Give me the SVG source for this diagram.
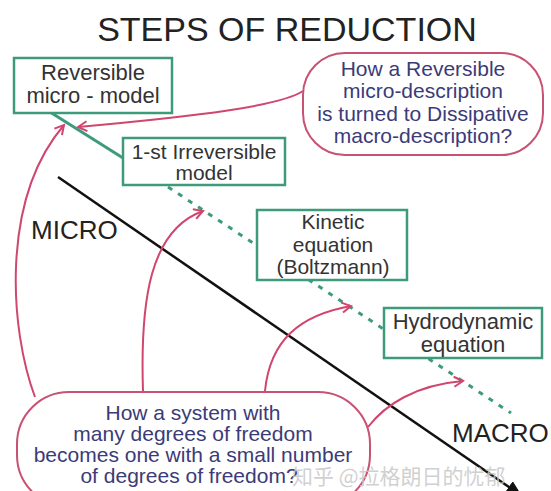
<svg xmlns="http://www.w3.org/2000/svg" width="551" height="491" viewBox="0 0 551 491">
<style>
.bg{fill:#ffffff}
.gbox{fill:#ffffff;stroke:#3d9b7b;stroke-width:2.5}
.pbox{fill:#ffffff;stroke:#c85273;stroke-width:2}
.gt{font-family:"Liberation Sans",Arial,sans-serif;font-size:22px;fill:#333333;text-anchor:middle}
.gs{font-size:21px}
.pt{font-family:"Liberation Sans",Arial,sans-serif;font-size:21px;fill:#3b3b78;text-anchor:middle}
.big{font-family:"Liberation Sans",Arial,sans-serif;font-size:26px;fill:#222222}
.title{font-family:"Liberation Sans",Arial,sans-serif;font-size:34px;fill:#222222;text-anchor:middle}
.parr{fill:none;stroke:#d0466e;stroke-width:2;marker-end:url(#pa)}
.wm{font-family:"Noto Sans CJK SC","Liberation Sans",sans-serif;font-size:21px;fill:#c8c8c8;fill-opacity:0.85}
</style>
<defs>
<marker id="pa" markerUnits="userSpaceOnUse" markerWidth="14" markerHeight="14" refX="10" refY="6" orient="auto">
<path d="M1,1 L10,6 L1,11" fill="none" stroke="#d0466e" stroke-width="2"/>
</marker>
<marker id="ba" markerUnits="userSpaceOnUse" markerWidth="20" markerHeight="20" refX="16" refY="8" orient="auto">
<path d="M0,1 L16,8 L0,15 Z" fill="#111111"/>
</marker>
</defs>
<rect class="bg" x="0" y="0" width="551" height="491"/>
<text class="title" x="287" y="41">STEPS OF REDUCTION</text>
<g id="connectors">
<line x1="50" y1="112" x2="123" y2="158" stroke="#3d9b7b" stroke-width="3"/>
<line x1="168" y1="187" x2="511" y2="413" stroke="#3d9b7b" stroke-width="3" stroke-dasharray="5 7"/>
<line x1="58" y1="177" x2="522" y2="496" stroke="#111111" stroke-width="2.5" marker-end="url(#ba)"/>
<path class="parr" d="M303 91 C280 106, 200 116, 78 127"/>
<path class="parr" d="M35 397 C10 330, 0 200, 64 125"/>
<path class="parr" d="M143 391 C140 300, 150 230, 203 211"/>
<path class="parr" d="M265 391 C270 340, 300 315, 351 306"/>
<path class="parr" d="M368 427 C385 405, 415 385, 463 381"/>
</g>
<g id="micro-label"><text class="big" x="31" y="239">MICRO</text></g>
<g id="macro-label"><text class="big" x="452" y="442">MACRO</text></g>
<g id="reversible-micro-model">
<rect class="gbox" x="14" y="58" width="158" height="55"/>
<text class="gt" x="93" y="80">Reversible</text>
<text class="gt" x="93" y="103">micro - model</text>
</g>
<g id="first-irreversible-model">
<rect class="gbox" x="123" y="138" width="162" height="47"/>
<text class="gt gs" x="204" y="159">1-st Irreversible</text>
<text class="gt gs" x="204" y="180">model</text>
</g>
<g id="kinetic-equation">
<rect class="gbox" x="257" y="210" width="150" height="70"/>
<text class="gt gs" x="333" y="229">Kinetic</text>
<text class="gt gs" x="333" y="252">equation</text>
<text class="gt gs" x="333" y="274">(Boltzmann)</text>
</g>
<g id="hydrodynamic-equation">
<rect class="gbox" x="384" y="308" width="158" height="50"/>
<text class="gt" x="463" y="329">Hydrodynamic</text>
<text class="gt" x="463" y="352">equation</text>
</g>
<g id="question-reversible">
<rect class="pbox" x="303" y="53" width="240" height="102" rx="42" ry="42"/>
<text class="pt" x="423" y="76">How a Reversible</text>
<text class="pt" x="423" y="98">micro-description</text>
<text class="pt" x="423" y="121">is turned to Dissipative</text>
<text class="pt" x="423" y="143">macro-description?</text>
</g>
<g id="question-degrees">
<rect class="pbox" x="17" y="392" width="353" height="115" rx="52" ry="52"/>
<text class="pt" x="193" y="420">How a system with</text>
<text class="pt" x="193" y="441">many degrees of freedom</text>
<text class="pt" x="193" y="462">becomes one with a small number</text>
<text class="pt" x="189" y="483">of degrees of freedom?</text>
</g>
<text class="wm" x="292" y="484">知乎 @拉格朗日的忧郁</text>
</svg>
